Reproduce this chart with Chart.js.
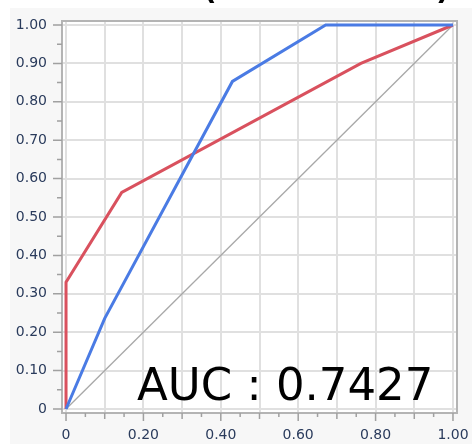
<!DOCTYPE html>
<html>
<head>
<meta charset="utf-8">
<script src="https://cdn.jsdelivr.net/npm/chart.js@4/dist/chart.umd.min.js"></script>
<style>
  html, body { margin: 0; padding: 0; background: #fff; }
  canvas { display: block; }
</style>
</head>
<body>
<canvas id="roc" width="472" height="444"></canvas>
<script>
// ROC points
const fprRed = [0, 0, 0.144, 0.762, 1];
const tprRed = [0, 0.33, 0.564, 0.90, 1];
const fprBlue = [0, 0.10, 0.43, 0.671, 1];
const tprBlue = [0, 0.236, 0.853, 1, 1];
const diagonal = [0, 1];

const gridValues = [0, 0.1, 0.2, 0.3, 0.4, 0.5, 0.6, 0.7, 0.8, 0.9, 1.0];
const xLabels = ["0", "0.20", "0.40", "0.60", "0.80", "1.00"];
const yLabels = ["0", "0.10", "0.20", "0.30", "0.40", "0.50", "0.60", "0.70", "0.80", "0.90", "1.00"];
const aucText = "AUC : 0.7427";

const labelFont = { family: "DejaVu Sans", size: 14 };
const labelColor = "#2a3b5c";

function toPoints(xs, ys) {
  return xs.map((x, i) => ({ x: x, y: ys[i] }));
}

const decorations = {
  id: "decorations",
  beforeDraw(chart) {
    const ctx = chart.ctx;
    const a = chart.chartArea;
    ctx.save();
    ctx.fillStyle = "#ffffff";
    ctx.fillRect(0, 0, chart.width, chart.height);
    ctx.fillStyle = "#f7f7f7";
    ctx.fillRect(10, 8, chart.width - 10, chart.height - 8);
    ctx.fillStyle = "#ffffff";
    ctx.fillRect(a.left, a.top, a.right - a.left, a.bottom - a.top);
    ctx.restore();
  },
  afterDraw(chart) {
    const ctx = chart.ctx;
    const a = chart.chartArea;
    const xs = chart.scales.x;
    const ys = chart.scales.y;
    ctx.save();
    // frame
    ctx.strokeStyle = "#b4b4b4";
    ctx.lineWidth = 2;
    ctx.strokeRect(a.left, a.top, a.right - a.left, a.bottom - a.top);
    // tick marks, major on grid values, minor half way
    ctx.strokeStyle = "#a0a0a0";
    ctx.lineWidth = 1.5;
    ctx.beginPath();
    gridValues.forEach((v, i) => {
      const py = ys.getPixelForValue(v);
      ctx.moveTo(a.left - 9, py); ctx.lineTo(a.left, py);
      const px = xs.getPixelForValue(v);
      ctx.moveTo(px, a.bottom); ctx.lineTo(px, a.bottom + (i % 2 === 0 ? 8 : 6));
      if (i < gridValues.length - 1) {
        const mid = (v + gridValues[i + 1]) / 2;
        const my = ys.getPixelForValue(mid);
        ctx.moveTo(a.left - 5, my); ctx.lineTo(a.left, my);
        const mx = xs.getPixelForValue(mid);
        ctx.moveTo(mx, a.bottom); ctx.lineTo(mx, a.bottom + 4);
      }
    });
    ctx.stroke();
    // AUC text
    ctx.fillStyle = "#000";
    ctx.font = "45px 'DejaVu Sans'";
    ctx.textBaseline = "alphabetic";
    ctx.fillText(aucText, 137, 400);
    // cropped title remnants
    ctx.font = "bold 30px 'DejaVu Sans'";
    ctx.fillText("(", 203, -1);
    ctx.fillText(")", 436, -1);
    ctx.restore();
  }
};

new Chart(document.getElementById("roc"), {
  type: "scatter",
  data: {
    datasets: [
      { data: toPoints(fprBlue, tprBlue), showLine: true, borderColor: "#4a7be4", borderWidth: 3, pointRadius: 0, tension: 0 },
      { data: toPoints(fprRed, tprRed), showLine: true, borderColor: "#d9515e", borderWidth: 3, pointRadius: 0, tension: 0 },
      { data: toPoints(diagonal, diagonal), showLine: true, borderColor: "#a8a8a8", borderWidth: 1.3, pointRadius: 0, tension: 0 }
    ]
  },
  options: {
    responsive: false,
    animation: false,
    devicePixelRatio: 1,
    layout: { padding: { top: 21, right: 15, left: 0, bottom: 0 } },
    plugins: { legend: { display: false }, tooltip: { enabled: false } },
    scales: {
      x: {
        type: "linear",
        min: -0.0104,
        max: 1.0104,
        afterBuildTicks: s => { s.ticks = gridValues.map(v => ({ value: v })); },
        afterFit: s => { s.height = 31; s.paddingLeft = 0; s.paddingRight = 0; },
        ticks: {
          autoSkip: false,
          maxRotation: 0,
          padding: 14,
          font: labelFont,
          color: labelColor,
          callback: (v, i) => (i % 2 === 0 ? xLabels[i / 2] : "")
        },
        grid: { color: "#e0e0e0", lineWidth: 2, drawTicks: false },
        border: { display: false }
      },
      y: {
        type: "linear",
        min: -0.0104,
        max: 1.0104,
        afterBuildTicks: s => { s.ticks = gridValues.map(v => ({ value: v })); },
        afterFit: s => { s.width = 62; s.paddingTop = 0; s.paddingBottom = 0; },
        ticks: {
          autoSkip: false,
          padding: 15,
          font: labelFont,
          color: labelColor,
          callback: (v, i) => yLabels[i]
        },
        grid: { color: "#e0e0e0", lineWidth: 2, drawTicks: false },
        border: { display: false }
      }
    }
  },
  plugins: [decorations]
});
</script>
</body>
</html>
